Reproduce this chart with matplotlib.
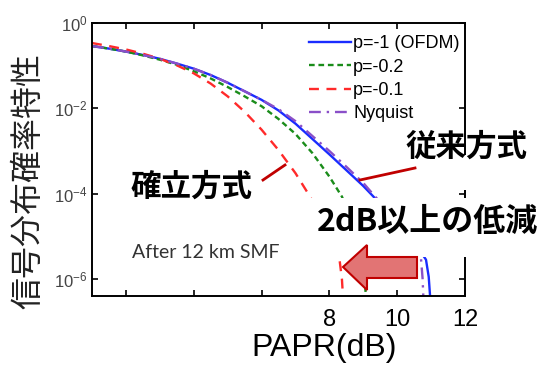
import matplotlib
matplotlib.use("Agg")
import matplotlib.pyplot as plt
from matplotlib.patches import Rectangle, Polygon
from matplotlib.lines import Line2D

plt.rcParams['mathtext.fontset'] = 'custom'
plt.rcParams['mathtext.rm'] = 'Liberation Sans'
plt.rcParams['mathtext.it'] = 'Liberation Sans:italic'
plt.rcParams['font.family'] = ['Liberation Sans', 'DejaVu Sans']

# ---- data (PAPR in dB, CCDF probability) ----
ofdm_x = [1, 1.5, 2, 2.5, 3, 3.5, 4, 4.5, 5, 5.5, 6, 6.5, 7, 7.5, 8, 8.5, 9, 9.3,
          9.8, 10.3, 10.6, 10.85, 10.93, 10.97]
ofdm_y = [0.288, 0.251, 0.214, 0.178, 0.145, 0.112, 0.0851, 0.0603, 0.0398, 0.0251,
          0.0158, 0.00891, 0.00437, 0.00191, 0.000832, 0.000355, 0.000151, 8.51e-5,
          3.16e-5, 1.12e-5, 5.62e-6, 2.82e-6, 1.12e-6, 3.98e-7]

p02_x = [1, 1.5, 2, 2.5, 3, 3.5, 4, 4.5, 5, 5.5, 6, 6.5, 7, 7.5, 8, 8.37, 8.7, 8.9,
         9.02, 9.08]
p02_y = [0.288, 0.251, 0.214, 0.174, 0.138, 0.105, 0.0741, 0.0501, 0.0316, 0.0191,
         0.0112, 0.00562, 0.00251, 0.000891, 0.000251, 8.51e-5, 2.0e-5, 5.01e-6,
         1.26e-6, 3.98e-7]

p01_x = [1, 1.5, 2, 2.5, 3, 3.5, 4, 4.5, 5, 5.5, 6, 6.5, 7, 7.43, 7.8, 8.1, 8.3,
         8.37, 8.4]
p01_y = [0.339, 0.288, 0.240, 0.191, 0.145, 0.102, 0.0661, 0.0380, 0.0191, 0.00832,
         0.00316, 0.00105, 0.000302, 8.51e-5, 2.51e-5, 7.94e-6, 2.82e-6, 1.0e-6,
         3.98e-7]

nyq_x = [1, 1.5, 2, 2.5, 3, 3.5, 4, 4.5, 5, 5.5, 6, 6.5, 7, 7.5, 8, 8.5, 9, 9.35,
         9.8, 10.2, 10.5, 10.7, 10.75, 10.77]
nyq_y = [0.288, 0.251, 0.214, 0.178, 0.145, 0.112, 0.0851, 0.0603, 0.0398, 0.0251,
         0.0158, 0.00955, 0.00501, 0.00224, 0.001, 0.000427, 0.000178, 8.51e-5,
         3.55e-5, 1.41e-5, 6.31e-6, 3.16e-6, 1.0e-6, 3.98e-7]

labels = ['p=-1 (OFDM)', 'p=-0.2', 'p=-0.1', 'Nyquist']
xticks = [2, 4, 6, 8, 10, 12]
xticklabels = ['', '', '', '8', '10', '12']
yticks = [1, 1e-2, 1e-4, 1e-6]
yticklabels = [r'$10^{0}$', r'$10^{-2}$', r'$10^{-4}$', r'$10^{-6}$']

W, H = 542, 365
fig = plt.figure(figsize=(W / 100, H / 100), dpi=100)
L, R, T, B = 92, 465, 23, 296
ax = fig.add_axes([L / W, 1 - B / H, (R - L) / W, (B - T) / H])

ax.plot(ofdm_x, ofdm_y, color='#1a2cff', lw=1.7, label=labels[0])
ax.plot(p02_x, p02_y, color='#1a8c1a', lw=1.7, ls=(0, (2.4, 1.6)), label=labels[1])
ax.plot(p01_x, p01_y, color='#ff2a2a', lw=1.7, ls=(0, (4.2, 3.2)), label=labels[2])
ax.plot(nyq_x, nyq_y, color='#8a4fc8', lw=1.7, ls=(0, (5, 2.5, 1, 2.5)), label=labels[3])

ax.set_yscale('log')
ax.set_xlim(1, 12)
ax.set_ylim(10 ** -6.4, 1)
ax.set_xticks(xticks)
ax.set_xticklabels(xticklabels, fontsize=17)
ax.set_yticks(yticks)
ax.set_yticklabels(yticklabels, fontsize=12, color='#444444')
ax.yaxis.set_minor_locator(matplotlib.ticker.NullLocator())
ax.tick_params(direction='in', top=True, right=True, length=4, width=1.2)
ax.tick_params(axis='x', pad=9)
ax.tick_params(axis='y', pad=3)
for s in ax.spines.values():
    s.set_linewidth(1.4)

leg = ax.legend(loc='upper left', bbox_to_anchor=(309 / W, 1 - 35 / H),
                bbox_transform=fig.transFigure, frameon=False, fontsize=13,
                handlelength=2.3, handletextpad=0.15, labelspacing=0.36,
                borderpad=0, borderaxespad=0)

# white covers
fig.patches.append(Rectangle((300 / W, 1 - 257 / H), 175 / W, 59 / H,
                             transform=fig.transFigure, facecolor='white',
                             edgecolor='none', zorder=2))
fig.patches.append(Rectangle((440 / W, 1 - 190 / H), 35 / W, 35 / H,
                             transform=fig.transFigure, facecolor='white',
                             edgecolor='none', zorder=2))

def P(x, y):
    return (x / W, 1 - y / H)

# arrow
arrow_pts = [P(343, 267), P(367, 245), P(367, 257), P(417, 257),
             P(417, 278), P(367, 278), P(367, 290)]
fig.patches.append(Polygon(arrow_pts, closed=True, transform=fig.transFigure,
                           facecolor='#e27474', edgecolor='#c00000', lw=1.5, zorder=3))

# pointer lines
fig.lines.append(Line2D([263 / W, 285 / W], [1 - 180 / H, 1 - 165 / H],
                        transform=fig.transFigure, color='#c00000', lw=2, zorder=3))
fig.lines.append(Line2D([360 / W, 415 / W], [1 - 180 / H, 1 - 168 / H],
                        transform=fig.transFigure, color='#c00000', lw=2, zorder=3))

cjk = ['Noto Sans CJK JP', 'DejaVu Sans']
fig.text(192 / W, 1 - 187 / H, '確立方式', family=cjk, weight='bold', fontsize=22,
         ha='center', va='center', zorder=4)
fig.text(466 / W, 1 - 147 / H, '従来方式', family=cjk, weight='bold', fontsize=22,
         ha='center', va='center', zorder=4)
fig.text(428 / W, 1 - 222 / H, '2dB以上の低減', family=cjk, weight='bold', fontsize=23,
         ha='center', va='center', zorder=4)
fig.text(132 / W, 1 - 252 / H, 'After 12 km SMF', family=['Lato', 'DejaVu Sans'],
         fontsize=14, color='#333333', ha='left', va='center', zorder=4)

fig.text(324 / W, 1 - 348 / H, 'PAPR(dB)', fontsize=23, ha='center', va='center')
fig.text(28 / W, 1 - 181 / H, '信号分布確率特性', family=cjk, fontsize=23,
         rotation=90, ha='center', va='center', color='#222222')

fig.savefig('out.png', dpi=100)
